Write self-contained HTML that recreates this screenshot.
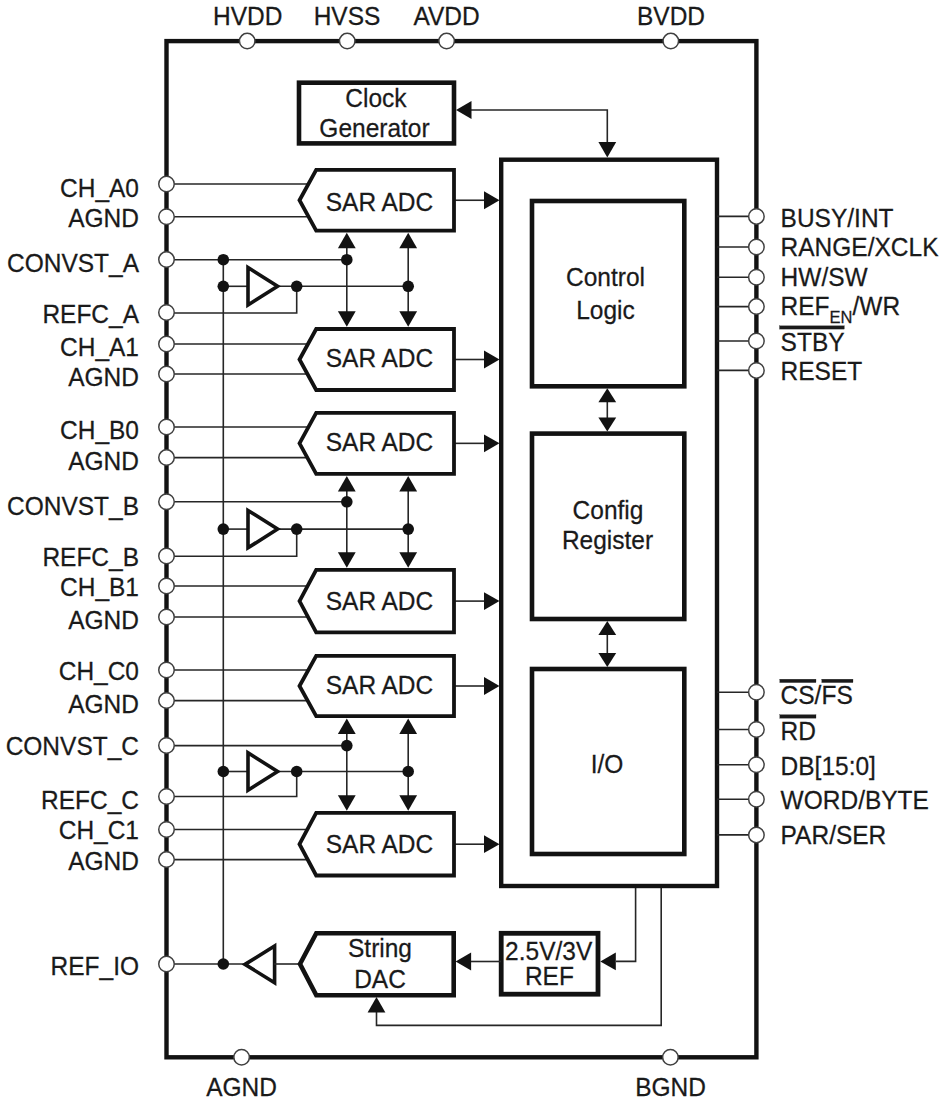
<!DOCTYPE html>
<html><head><meta charset="utf-8"><style>
html,body{margin:0;padding:0;background:#fff;width:941px;height:1100px;overflow:hidden}
svg{display:block}
text{font-family:"Liberation Sans",sans-serif}
</style></head><body>
<svg width="941" height="1100" viewBox="0 0 941 1100">
<rect width="941" height="1100" fill="#fff"/>
<rect x="166.5" y="41.1" width="589.9" height="1016.1999999999999" fill="none" stroke="#121212" stroke-width="4.4"/>
<polyline points="166.5,184 309.44151565074134,184" fill="none" stroke="#262626" stroke-width="1.6"/>
<polyline points="166.5,216.8 309.60658978583194,216.8" fill="none" stroke="#262626" stroke-width="1.6"/>
<polyline points="454,200.25 484,200.25" fill="none" stroke="#262626" stroke-width="1.6"/>
<polygon points="499.5,200.25 484.0,191.35 484.0,209.15" fill="#121212"/>
<polyline points="166.5,344 308.98688524590165,344" fill="none" stroke="#262626" stroke-width="1.6"/>
<polyline points="166.5,374 308.4393442622951,374" fill="none" stroke="#262626" stroke-width="1.6"/>
<polyline points="454,359.5 484,359.5" fill="none" stroke="#262626" stroke-width="1.6"/>
<polygon points="499.5,359.5 484.0,350.6 484.0,368.4" fill="#121212"/>
<polyline points="166.5,427 309.4669950738916,427" fill="none" stroke="#262626" stroke-width="1.6"/>
<polyline points="166.5,457.6 308.3152709359606,457.6" fill="none" stroke="#262626" stroke-width="1.6"/>
<polyline points="454,443.35 484,443.35" fill="none" stroke="#262626" stroke-width="1.6"/>
<polygon points="499.5,443.35 484.0,434.45000000000005 484.0,452.25" fill="#121212"/>
<polyline points="166.5,586 308.58237179487173,586" fill="none" stroke="#262626" stroke-width="1.6"/>
<polyline points="166.5,617 309.010576923077,617" fill="none" stroke="#262626" stroke-width="1.6"/>
<polyline points="454,601.0999999999999 484,601.0999999999999" fill="none" stroke="#262626" stroke-width="1.6"/>
<polygon points="499.5,601.0999999999999 484.0,592.1999999999999 484.0,609.9999999999999" fill="#121212"/>
<polyline points="166.5,670 309.3476821192053,670" fill="none" stroke="#262626" stroke-width="1.6"/>
<polyline points="166.5,700.6 308.57350993377486,700.6" fill="none" stroke="#262626" stroke-width="1.6"/>
<polyline points="454,686.0 484,686.0" fill="none" stroke="#262626" stroke-width="1.6"/>
<polygon points="499.5,686.0 484.0,677.1 484.0,694.9" fill="#121212"/>
<polyline points="166.5,829.5 308.3431309904154,829.5" fill="none" stroke="#262626" stroke-width="1.6"/>
<polyline points="166.5,859.6 308.71661341853036,859.6" fill="none" stroke="#262626" stroke-width="1.6"/>
<polyline points="454,844.2 484,844.2" fill="none" stroke="#262626" stroke-width="1.6"/>
<polygon points="499.5,844.2 484.0,835.3000000000001 484.0,853.1" fill="#121212"/>
<polyline points="166.5,259.7 346.8,259.7" fill="none" stroke="#262626" stroke-width="1.6"/>
<polyline points="223.3,286.3 249,286.3" fill="none" stroke="#262626" stroke-width="1.6"/>
<polyline points="278,286.3 408.2,286.3" fill="none" stroke="#262626" stroke-width="1.6"/>
<polyline points="166.5,313 296.7,313 296.7,286.3" fill="none" stroke="#262626" stroke-width="1.6"/>
<polyline points="346.8,244.6 346.8,315" fill="none" stroke="#262626" stroke-width="1.6"/>
<polygon points="346.8,232.79999999999998 337.90000000000003,248.29999999999998 355.7,248.29999999999998" fill="#121212"/>
<polygon points="346.8,326.8 337.90000000000003,311.3 355.7,311.3" fill="#121212"/>
<polyline points="408.2,244.6 408.2,315" fill="none" stroke="#262626" stroke-width="1.6"/>
<polygon points="408.2,232.79999999999998 399.3,248.29999999999998 417.09999999999997,248.29999999999998" fill="#121212"/>
<polygon points="408.2,326.8 399.3,311.3 417.09999999999997,311.3" fill="#121212"/>
<polygon points="248,267.6 277.6,286.3 248,305.0" fill="#fff" stroke="#121212" stroke-width="3.6" stroke-linejoin="miter"/>
<polyline points="166.5,501.8 346.8,501.8" fill="none" stroke="#262626" stroke-width="1.6"/>
<polyline points="223.3,529.1 249,529.1" fill="none" stroke="#262626" stroke-width="1.6"/>
<polyline points="278,529.1 408.2,529.1" fill="none" stroke="#262626" stroke-width="1.6"/>
<polyline points="166.5,556.2 296.7,556.2 296.7,529.1" fill="none" stroke="#262626" stroke-width="1.6"/>
<polyline points="346.8,487.8 346.8,555.9" fill="none" stroke="#262626" stroke-width="1.6"/>
<polygon points="346.8,476.0 337.90000000000003,491.5 355.7,491.5" fill="#121212"/>
<polygon points="346.8,567.6999999999999 337.90000000000003,552.1999999999999 355.7,552.1999999999999" fill="#121212"/>
<polyline points="408.2,487.8 408.2,555.9" fill="none" stroke="#262626" stroke-width="1.6"/>
<polygon points="408.2,476.0 399.3,491.5 417.09999999999997,491.5" fill="#121212"/>
<polygon points="408.2,567.6999999999999 399.3,552.1999999999999 417.09999999999997,552.1999999999999" fill="#121212"/>
<polygon points="248,510.40000000000003 277.6,529.1 248,547.8000000000001" fill="#fff" stroke="#121212" stroke-width="3.6" stroke-linejoin="miter"/>
<polyline points="166.5,745.6 346.8,745.6" fill="none" stroke="#262626" stroke-width="1.6"/>
<polyline points="223.3,771.5 249,771.5" fill="none" stroke="#262626" stroke-width="1.6"/>
<polyline points="278,771.5 408.2,771.5" fill="none" stroke="#262626" stroke-width="1.6"/>
<polyline points="166.5,796.5 296.7,796.5 296.7,771.5" fill="none" stroke="#262626" stroke-width="1.6"/>
<polyline points="346.8,730.2 346.8,798.9" fill="none" stroke="#262626" stroke-width="1.6"/>
<polygon points="346.8,718.4000000000001 337.90000000000003,733.9000000000001 355.7,733.9000000000001" fill="#121212"/>
<polygon points="346.8,810.6999999999999 337.90000000000003,795.1999999999999 355.7,795.1999999999999" fill="#121212"/>
<polyline points="408.2,730.2 408.2,798.9" fill="none" stroke="#262626" stroke-width="1.6"/>
<polygon points="408.2,718.4000000000001 399.3,733.9000000000001 417.09999999999997,733.9000000000001" fill="#121212"/>
<polygon points="408.2,810.6999999999999 399.3,795.1999999999999 417.09999999999997,795.1999999999999" fill="#121212"/>
<polygon points="248,752.8 277.6,771.5 248,790.2" fill="#fff" stroke="#121212" stroke-width="3.6" stroke-linejoin="miter"/>
<polyline points="223.3,259.6 223.3,964" fill="none" stroke="#262626" stroke-width="1.6"/>
<polyline points="166.5,964 244,964" fill="none" stroke="#262626" stroke-width="1.6"/>
<polygon points="245,964.4 274.6,946 274.6,982.8" fill="#fff" stroke="#121212" stroke-width="3.6"/>
<polyline points="274,964 300,964" fill="none" stroke="#262626" stroke-width="1.6"/>
<polygon points="300,964 316.3,933.2 453.7,933.2 453.7,995.2 316.3,995.2" fill="#fff" stroke="#121212" stroke-width="4.6" stroke-linejoin="miter"/>
<rect x="501.2" y="933.3" width="96.80000000000001" height="60.90000000000009" fill="none" stroke="#121212" stroke-width="4.8"/>
<polyline points="471,961.5 501,961.5" fill="none" stroke="#262626" stroke-width="1.6"/>
<polygon points="455.6,961.5 471.1,952.6 471.1,970.4" fill="#121212"/>
<polyline points="635.6,886 635.6,961.4 616,961.4" fill="none" stroke="#262626" stroke-width="1.6"/>
<polygon points="600.3,961.4 615.8,952.5 615.8,970.3" fill="#121212"/>
<polyline points="661.2,886 661.2,1025.4 376.5,1025.4 376.5,1011" fill="none" stroke="#262626" stroke-width="1.6"/>
<polygon points="376.5,997 367.6,1012.5 385.4,1012.5" fill="#121212"/>
<rect x="299" y="82.7" width="155" height="60.7" fill="none" stroke="#121212" stroke-width="4.6"/>
<polyline points="470,110 607.3,110 607.3,142" fill="none" stroke="#262626" stroke-width="1.6"/>
<polygon points="456,110 471.5,101.1 471.5,118.9" fill="#121212"/>
<polygon points="607.3,157.6 598.4,142.1 616.1999999999999,142.1" fill="#121212"/>
<rect x="501.2" y="159.7" width="215.8" height="726.3" fill="none" stroke="#121212" stroke-width="4.4"/>
<rect x="532" y="201" width="152.29999999999995" height="185.3" fill="none" stroke="#121212" stroke-width="4.6"/>
<rect x="532" y="433.6" width="152.29999999999995" height="185.39999999999998" fill="none" stroke="#121212" stroke-width="4.6"/>
<rect x="532" y="669" width="152.29999999999995" height="185" fill="none" stroke="#121212" stroke-width="4.6"/>
<polyline points="607.3,400.3 607.3,419.6" fill="none" stroke="#262626" stroke-width="1.6"/>
<polygon points="607.3,388.3 598.4,402.3 616.1999999999999,402.3" fill="#121212"/>
<polygon points="607.3,431.6 598.4,417.6 616.1999999999999,417.6" fill="#121212"/>
<polyline points="607.3,633 607.3,655" fill="none" stroke="#262626" stroke-width="1.6"/>
<polygon points="607.3,621 598.4,635 616.1999999999999,635" fill="#121212"/>
<polygon points="607.3,667 598.4,653 616.1999999999999,653" fill="#121212"/>
<polygon points="299.5,200.25 316.2,169.9 454,169.9 454,230.6 316.2,230.6" fill="#fff" stroke="#121212" stroke-width="3.8" stroke-linejoin="miter"/>
<polygon points="299.5,359.5 316.2,329 454,329 454,390 316.2,390" fill="#fff" stroke="#121212" stroke-width="3.8" stroke-linejoin="miter"/>
<polygon points="299.5,443.35 316.2,412.9 454,412.9 454,473.8 316.2,473.8" fill="#fff" stroke="#121212" stroke-width="3.8" stroke-linejoin="miter"/>
<polygon points="299.5,601.0999999999999 316.2,569.9 454,569.9 454,632.3 316.2,632.3" fill="#fff" stroke="#121212" stroke-width="3.8" stroke-linejoin="miter"/>
<polygon points="299.5,686.0 316.2,655.8 454,655.8 454,716.2 316.2,716.2" fill="#fff" stroke="#121212" stroke-width="3.8" stroke-linejoin="miter"/>
<polygon points="299.5,844.2 316.2,812.9 454,812.9 454,875.5 316.2,875.5" fill="#fff" stroke="#121212" stroke-width="3.8" stroke-linejoin="miter"/>
<polyline points="717,216.4 756.4,216.4" fill="none" stroke="#262626" stroke-width="1.6"/>
<polyline points="717,247 756.4,247" fill="none" stroke="#262626" stroke-width="1.6"/>
<polyline points="717,277.3 756.4,277.3" fill="none" stroke="#262626" stroke-width="1.6"/>
<polyline points="717,306.6 756.4,306.6" fill="none" stroke="#262626" stroke-width="1.6"/>
<polyline points="717,341 756.4,341" fill="none" stroke="#262626" stroke-width="1.6"/>
<polyline points="717,370.4 756.4,370.4" fill="none" stroke="#262626" stroke-width="1.6"/>
<polyline points="717,692.2 756.4,692.2" fill="none" stroke="#262626" stroke-width="1.6"/>
<polyline points="717,729.5 756.4,729.5" fill="none" stroke="#262626" stroke-width="1.6"/>
<polyline points="717,764.8 756.4,764.8" fill="none" stroke="#262626" stroke-width="1.6"/>
<polyline points="717,799.3 756.4,799.3" fill="none" stroke="#262626" stroke-width="1.6"/>
<polyline points="717,834.9 756.4,834.9" fill="none" stroke="#262626" stroke-width="1.6"/>
<circle cx="346.8" cy="259.7" r="5.8" fill="#121212"/>
<circle cx="408.2" cy="286.3" r="5.8" fill="#121212"/>
<circle cx="296.7" cy="286.3" r="5.8" fill="#121212"/>
<circle cx="223.3" cy="286.3" r="5.8" fill="#121212"/>
<circle cx="223.3" cy="259.7" r="5.8" fill="#121212"/>
<circle cx="346.8" cy="501.8" r="5.8" fill="#121212"/>
<circle cx="408.2" cy="529.1" r="5.8" fill="#121212"/>
<circle cx="296.7" cy="529.1" r="5.8" fill="#121212"/>
<circle cx="223.3" cy="529.1" r="5.8" fill="#121212"/>
<circle cx="346.8" cy="745.6" r="5.8" fill="#121212"/>
<circle cx="408.2" cy="771.5" r="5.8" fill="#121212"/>
<circle cx="296.7" cy="771.5" r="5.8" fill="#121212"/>
<circle cx="223.3" cy="771.5" r="5.8" fill="#121212"/>
<circle cx="223.3" cy="964" r="5.8" fill="#121212"/>
<circle cx="166.5" cy="184" r="7.75" fill="#fff" stroke="#404040" stroke-width="1.5"/>
<circle cx="166.5" cy="216.8" r="7.75" fill="#fff" stroke="#404040" stroke-width="1.5"/>
<circle cx="166.5" cy="259.6" r="7.75" fill="#fff" stroke="#404040" stroke-width="1.5"/>
<circle cx="166.5" cy="312.5" r="7.75" fill="#fff" stroke="#404040" stroke-width="1.5"/>
<circle cx="166.5" cy="344" r="7.75" fill="#fff" stroke="#404040" stroke-width="1.5"/>
<circle cx="166.5" cy="374" r="7.75" fill="#fff" stroke="#404040" stroke-width="1.5"/>
<circle cx="166.5" cy="427" r="7.75" fill="#fff" stroke="#404040" stroke-width="1.5"/>
<circle cx="166.5" cy="457.6" r="7.75" fill="#fff" stroke="#404040" stroke-width="1.5"/>
<circle cx="166.5" cy="501.8" r="7.75" fill="#fff" stroke="#404040" stroke-width="1.5"/>
<circle cx="166.5" cy="556" r="7.75" fill="#fff" stroke="#404040" stroke-width="1.5"/>
<circle cx="166.5" cy="586" r="7.75" fill="#fff" stroke="#404040" stroke-width="1.5"/>
<circle cx="166.5" cy="617" r="7.75" fill="#fff" stroke="#404040" stroke-width="1.5"/>
<circle cx="166.5" cy="670" r="7.75" fill="#fff" stroke="#404040" stroke-width="1.5"/>
<circle cx="166.5" cy="700.6" r="7.75" fill="#fff" stroke="#404040" stroke-width="1.5"/>
<circle cx="166.5" cy="745.5" r="7.75" fill="#fff" stroke="#404040" stroke-width="1.5"/>
<circle cx="166.5" cy="796.5" r="7.75" fill="#fff" stroke="#404040" stroke-width="1.5"/>
<circle cx="166.5" cy="829.5" r="7.75" fill="#fff" stroke="#404040" stroke-width="1.5"/>
<circle cx="166.5" cy="859.6" r="7.75" fill="#fff" stroke="#404040" stroke-width="1.5"/>
<circle cx="166.5" cy="964" r="7.75" fill="#fff" stroke="#404040" stroke-width="1.5"/>
<circle cx="756.4" cy="216.4" r="7.75" fill="#fff" stroke="#404040" stroke-width="1.5"/>
<circle cx="756.4" cy="247" r="7.75" fill="#fff" stroke="#404040" stroke-width="1.5"/>
<circle cx="756.4" cy="277.3" r="7.75" fill="#fff" stroke="#404040" stroke-width="1.5"/>
<circle cx="756.4" cy="306.6" r="7.75" fill="#fff" stroke="#404040" stroke-width="1.5"/>
<circle cx="756.4" cy="341" r="7.75" fill="#fff" stroke="#404040" stroke-width="1.5"/>
<circle cx="756.4" cy="370.4" r="7.75" fill="#fff" stroke="#404040" stroke-width="1.5"/>
<circle cx="756.4" cy="692.2" r="7.75" fill="#fff" stroke="#404040" stroke-width="1.5"/>
<circle cx="756.4" cy="729.5" r="7.75" fill="#fff" stroke="#404040" stroke-width="1.5"/>
<circle cx="756.4" cy="764.8" r="7.75" fill="#fff" stroke="#404040" stroke-width="1.5"/>
<circle cx="756.4" cy="799.3" r="7.75" fill="#fff" stroke="#404040" stroke-width="1.5"/>
<circle cx="756.4" cy="834.9" r="7.75" fill="#fff" stroke="#404040" stroke-width="1.5"/>
<circle cx="247.2" cy="41.1" r="7.75" fill="#fff" stroke="#404040" stroke-width="1.5"/>
<circle cx="347.2" cy="41.1" r="7.75" fill="#fff" stroke="#404040" stroke-width="1.5"/>
<circle cx="446.6" cy="41.1" r="7.75" fill="#fff" stroke="#404040" stroke-width="1.5"/>
<circle cx="670.8" cy="41.1" r="7.75" fill="#fff" stroke="#404040" stroke-width="1.5"/>
<circle cx="241.6" cy="1057.3" r="7.75" fill="#fff" stroke="#404040" stroke-width="1.5"/>
<circle cx="670.4" cy="1057.3" r="7.75" fill="#fff" stroke="#404040" stroke-width="1.5"/>
<g fill="#1a1a1a" stroke="#1a1a1a" stroke-width="0.25" font-family="Liberation Sans, sans-serif">
<text x="247.7" y="25.3" text-anchor="middle" font-size="24.5" transform="matrix(1,0,0,1.03,0,-0.759)">HVDD</text>
<text x="347" y="25.3" text-anchor="middle" font-size="24.5" transform="matrix(1,0,0,1.03,0,-0.759)">HVSS</text>
<text x="446.5" y="25.3" text-anchor="middle" font-size="24.5" transform="matrix(1,0,0,1.03,0,-0.759)">AVDD</text>
<text x="671" y="25.3" text-anchor="middle" font-size="24.5" transform="matrix(1,0,0,1.03,0,-0.759)">BVDD</text>
<text x="241.6" y="1095.6" text-anchor="middle" font-size="24.5" transform="matrix(1,0,0,1.03,0,-32.868)">AGND</text>
<text x="670.6" y="1095.6" text-anchor="middle" font-size="24.5" transform="matrix(1,0,0,1.03,0,-32.868)">BGND</text>
<text x="139" y="196.9" text-anchor="end" font-size="24.5" transform="matrix(1,0,0,1.03,0,-5.907)">CH_A0</text>
<text x="139" y="227.05" text-anchor="end" font-size="24.5" transform="matrix(1,0,0,1.03,0,-6.812)">AGND</text>
<text x="139" y="271.9" text-anchor="end" font-size="24.5" transform="matrix(1,0,0,1.03,0,-8.157)">CONVST_A</text>
<text x="139" y="322.9" text-anchor="end" font-size="24.5" transform="matrix(1,0,0,1.03,0,-9.687)">REFC_A</text>
<text x="139" y="355.8" text-anchor="end" font-size="24.5" transform="matrix(1,0,0,1.03,0,-10.674)">CH_A1</text>
<text x="139" y="386.15" text-anchor="end" font-size="24.5" transform="matrix(1,0,0,1.03,0,-11.585)">AGND</text>
<text x="139" y="439.5" text-anchor="end" font-size="24.5" transform="matrix(1,0,0,1.03,0,-13.185)">CH_B0</text>
<text x="139" y="470.05" text-anchor="end" font-size="24.5" transform="matrix(1,0,0,1.03,0,-14.102)">AGND</text>
<text x="139" y="514.75" text-anchor="end" font-size="24.5" transform="matrix(1,0,0,1.03,0,-15.443)">CONVST_B</text>
<text x="139" y="565.65" text-anchor="end" font-size="24.5" transform="matrix(1,0,0,1.03,0,-16.970)">REFC_B</text>
<text x="139" y="595.85" text-anchor="end" font-size="24.5" transform="matrix(1,0,0,1.03,0,-17.876)">CH_B1</text>
<text x="139" y="629.3" text-anchor="end" font-size="24.5" transform="matrix(1,0,0,1.03,0,-18.879)">AGND</text>
<text x="139" y="680.25" text-anchor="end" font-size="24.5" transform="matrix(1,0,0,1.03,0,-20.408)">CH_C0</text>
<text x="139" y="713.5" text-anchor="end" font-size="24.5" transform="matrix(1,0,0,1.03,0,-21.405)">AGND</text>
<text x="139" y="754.75" text-anchor="end" font-size="24.5" transform="matrix(1,0,0,1.03,0,-22.643)">CONVST_C</text>
<text x="139" y="808.85" text-anchor="end" font-size="24.5" transform="matrix(1,0,0,1.03,0,-24.266)">REFC_C</text>
<text x="139" y="839.05" text-anchor="end" font-size="24.5" transform="matrix(1,0,0,1.03,0,-25.172)">CH_C1</text>
<text x="139" y="869.7" text-anchor="end" font-size="24.5" transform="matrix(1,0,0,1.03,0,-26.091)">AGND</text>
<text x="139" y="974.6" text-anchor="end" font-size="24.5" transform="matrix(1,0,0,1.03,0,-29.238)">REF_IO</text>
<text x="780.6" y="227.5" text-anchor="start" font-size="24.5" transform="matrix(1,0,0,1.03,0,-6.825)">BUSY/INT</text>
<text x="780.6" y="256.5" text-anchor="start" font-size="24.5" transform="matrix(1,0,0,1.03,0,-7.695)">RANGE/XCLK</text>
<text x="780.6" y="285.9" text-anchor="start" font-size="24.5" transform="matrix(1,0,0,1.03,0,-8.577)">HW/SW</text>
<text x="780.6" y="315.1" font-size="24.5" transform="matrix(1,0,0,1.03,0,-9.453)">REF<tspan font-size="16.5" dy="7.4">EN</tspan><tspan dy="-7.4">/WR</tspan></text>
<text x="780.6" y="350.6" text-anchor="start" font-size="24.5" transform="matrix(1,0,0,1.03,0,-10.518)">STBY</text>
<text x="780.6" y="379.9" text-anchor="start" font-size="24.5" transform="matrix(1,0,0,1.03,0,-11.397)">RESET</text>
<text x="780.6" y="704.4" text-anchor="start" font-size="24.5" transform="matrix(1,0,0,1.03,0,-21.132)">CS/FS</text>
<text x="780.6" y="739.9" text-anchor="start" font-size="24.5" transform="matrix(1,0,0,1.03,0,-22.197)">RD</text>
<text x="780.6" y="774.7" text-anchor="start" font-size="24.5" transform="matrix(1,0,0,1.03,0,-23.241)">DB[15:0]</text>
<text x="780.6" y="809.5" text-anchor="start" font-size="24.5" transform="matrix(1,0,0,1.03,0,-24.285)">WORD/BYTE</text>
<text x="780.6" y="844" text-anchor="start" font-size="24.5" transform="matrix(1,0,0,1.03,0,-25.320)">PAR/SER</text>
<rect x="779.5" y="325.8" width="64.8" height="3.3"/>
<rect x="779.8" y="679.2" width="36.2" height="3.4"/>
<rect x="821.8" y="679.2" width="31.2" height="3.4"/>
<rect x="779.8" y="714.7" width="36.2" height="3.5"/>
<text x="376" y="106.7" text-anchor="middle" font-size="24.5" transform="matrix(1,0,0,1.03,0,-3.201)">Clock</text>
<text x="374.5" y="137" text-anchor="middle" font-size="24.5" transform="matrix(1,0,0,1.03,0,-4.110)">Generator</text>
<text x="379.5" y="210.8" text-anchor="middle" font-size="24.5" transform="matrix(1,0,0,1.03,0,-6.324)">SAR ADC</text>
<text x="379.5" y="367.3" text-anchor="middle" font-size="24.5" transform="matrix(1,0,0,1.03,0,-11.019)">SAR ADC</text>
<text x="379.5" y="450.9" text-anchor="middle" font-size="24.5" transform="matrix(1,0,0,1.03,0,-13.527)">SAR ADC</text>
<text x="379.5" y="610.1" text-anchor="middle" font-size="24.5" transform="matrix(1,0,0,1.03,0,-18.303)">SAR ADC</text>
<text x="379.5" y="694.2" text-anchor="middle" font-size="24.5" transform="matrix(1,0,0,1.03,0,-20.826)">SAR ADC</text>
<text x="379.5" y="852.9" text-anchor="middle" font-size="24.5" transform="matrix(1,0,0,1.03,0,-25.587)">SAR ADC</text>
<text x="605.5" y="286.4" text-anchor="middle" font-size="24.5" transform="matrix(1,0,0,1.03,0,-8.592)">Control</text>
<text x="605.5" y="319" text-anchor="middle" font-size="24.5" transform="matrix(1,0,0,1.03,0,-9.570)">Logic</text>
<text x="608" y="518.7" text-anchor="middle" font-size="24.5" transform="matrix(1,0,0,1.03,0,-15.561)">Config</text>
<text x="607.5" y="548.7" text-anchor="middle" font-size="24.5" transform="matrix(1,0,0,1.03,0,-16.461)">Register</text>
<text x="607" y="773.2" text-anchor="middle" font-size="24.5" transform="matrix(1,0,0,1.03,0,-23.196)">I/O</text>
<text x="380" y="957.3" text-anchor="middle" font-size="24.5" transform="matrix(1,0,0,1.03,0,-28.719)">String</text>
<text x="380" y="987.9" text-anchor="middle" font-size="24.5" transform="matrix(1,0,0,1.03,0,-29.637)">DAC</text>
<text x="548.7" y="960.3" text-anchor="middle" font-size="24.5" transform="matrix(1,0,0,1.03,0,-28.809)">2.5V/3V</text>
<text x="549.4" y="985.2" text-anchor="middle" font-size="24.5" transform="matrix(1,0,0,1.03,0,-29.556)">REF</text>
</g>
</svg>
</body></html>
